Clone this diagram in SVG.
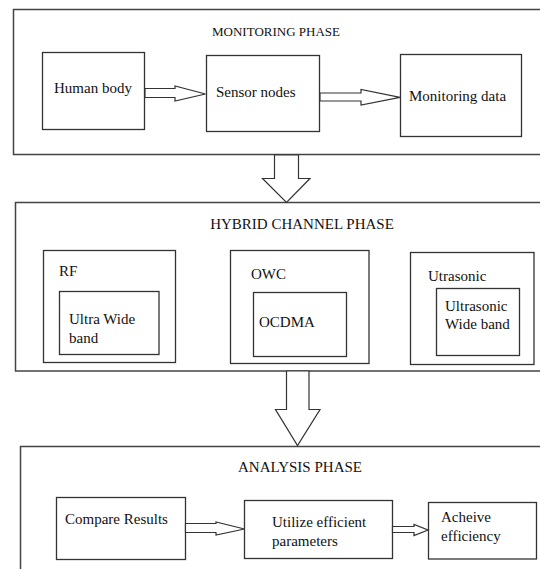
<svg xmlns="http://www.w3.org/2000/svg" width="540" height="569" viewBox="0 0 540 569">
<style>
.box{fill:#fff;stroke:#333;stroke-width:1.3}
.phase{fill:none;stroke:#444;stroke-width:1.5}
.t{font-family:"Liberation Serif","Times New Roman",serif;font-size:15px;fill:#111}
.h{font-family:"Liberation Serif","Times New Roman",serif;font-size:13px;fill:#111}
.arr{fill:#fff;stroke:#333;stroke-width:1.2;stroke-linejoin:miter}
</style>
<rect width="540" height="569" fill="#fff"/>

<g id="monitoring-phase">
<rect class="phase" x="13.5" y="9.5" width="540" height="145"/>
<text class="h" x="276" y="36" text-anchor="middle">MONITORING PHASE</text>
</g>
<g id="human-body">
<rect class="box" x="42.5" y="52.5" width="102" height="77"/>
<text class="t" x="54" y="93">Human body</text>
</g>
<g id="sensor-nodes">
<rect class="box" x="206.5" y="55.5" width="113" height="76"/>
<text class="t" x="216" y="97">Sensor nodes</text>
</g>
<g id="monitoring-data">
<rect class="box" x="400.5" y="54.5" width="121" height="82"/>
<text class="t" x="409" y="101">Monitoring data</text>
</g>

<g id="hybrid-channel-phase">
<rect class="phase" x="15.5" y="202.5" width="540" height="168.5"/>
<text class="t" x="302" y="229" text-anchor="middle">HYBRID CHANNEL PHASE</text>
</g>
<g id="rf">
<rect class="box" x="43.5" y="250.5" width="132" height="112"/>
<text class="t" x="59" y="276">RF</text>
<rect class="box" x="59.5" y="291.5" width="99.5" height="63"/>
<text class="t" x="69" y="324">Ultra Wide</text>
<text class="t" x="69" y="343">band</text>
</g>
<g id="owc">
<rect class="box" x="230.5" y="250.5" width="138.5" height="113"/>
<text class="t" x="251" y="279">OWC</text>
<rect class="box" x="253.5" y="292.5" width="93" height="64"/>
<text class="t" x="259" y="327">OCDMA</text>
</g>
<g id="ultrasonic">
<rect class="box" x="410.5" y="252.5" width="123.5" height="112"/>
<text class="t" x="428" y="281">Utrasonic</text>
<rect class="box" x="436.5" y="288.5" width="83" height="67"/>
<text class="t" x="445" y="311">Ultrasonic</text>
<text class="t" x="445" y="329">Wide band</text>
</g>

<g id="analysis-phase">
<rect class="phase" x="20.5" y="446.5" width="540" height="140"/>
<text class="t" x="300" y="472" text-anchor="middle">ANALYSIS PHASE</text>
</g>
<g id="compare-results">
<rect class="box" x="56.5" y="497.5" width="129" height="62"/>
<text class="t" x="65" y="524">Compare Results</text>
</g>
<g id="utilize">
<rect class="box" x="244.5" y="500.5" width="148" height="58"/>
<text class="t" x="272" y="527">Utilize efficient</text>
<text class="t" x="272" y="546">parameters</text>
</g>
<g id="acheive">
<rect class="box" x="428.5" y="502.5" width="108" height="56.5"/>
<text class="t" x="441" y="522">Acheive</text>
<text class="t" x="441" y="541">efficiency</text>
</g>

<g id="connectors">
<polygon class="arr" points="145,88.5 175,88.5 175,86 205.5,94 175,101 175,97.5 145,97.5"/>
<polygon class="arr" points="320,93 361,93 361,89.5 400,97.3 361,105 361,101 320,101"/>
<polygon class="arr" points="274.5,155 298.5,155 298.5,178.5 310,178.5 286.5,202.5 262.5,178.5 274.5,178.5"/>
<polygon class="arr" points="286.5,371 309,371 309,409.5 320,409.5 297.5,445.5 275.5,409.5 286.5,409.5"/>
<polygon class="arr" points="185.5,523.5 216,523.5 216,522 244.5,529 216,535 216,532.5 185.5,532.5"/>
<polygon class="arr" points="392.5,526.5 414,526.5 414,524.5 428,530 414,535.5 414,532.5 392.5,532.5"/>
</g>
</svg>
